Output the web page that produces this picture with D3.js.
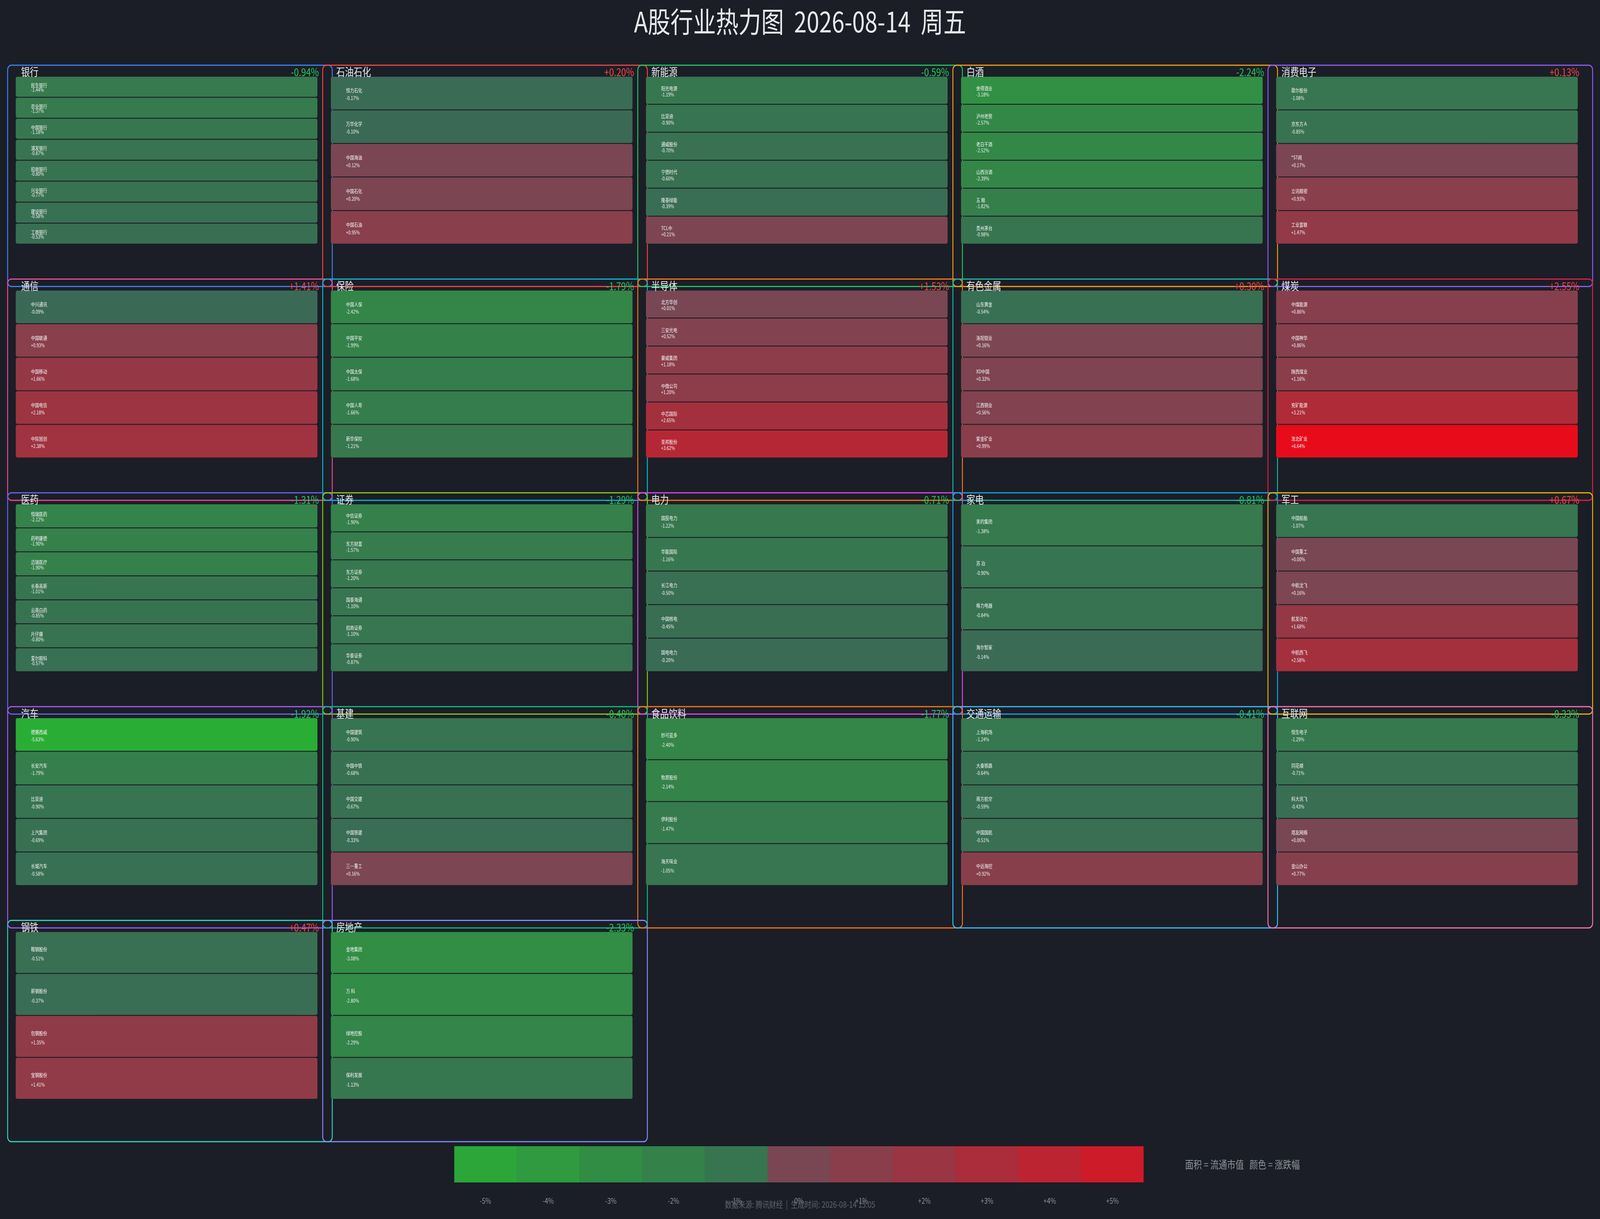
<!DOCTYPE html>
<html><head><meta charset="utf-8">
<script src="https://cdn.jsdelivr.net/npm/d3@7/dist/d3.min.js"></script>
<style>
html,body{margin:0;padding:0;background:#1b1e26;width:100%;height:100%;overflow:hidden;}
svg{display:block;width:100vw;height:100vh;}
text{font-family:"Noto Sans CJK SC","Noto Sans",sans-serif;white-space:pre;}
</style></head><body>
<svg id="chart" viewBox="0 0 5148 3121" preserveAspectRatio="none"></svg>
<script>
// ---------------- DATA ----------------
const sectors = ["银行","石油石化","新能源","白酒","消费电子",
  "通信","保险","半导体","有色金属","煤炭",
  "医药","证券","电力","家电","军工",
  "汽车","基建","食品饮料","交通运输","互联网",
  "钢铁","房地产"];
const sectorChange = [-0.94,0.20,-0.59,-2.24,0.13,
  1.41,-1.79,1.53,0.30,2.55,
  -1.31,-1.29,-0.71,-0.81,0.67,
  -1.92,-0.48,-1.77,-0.41,-0.33,
  0.47,-2.33];
const stockNames = [
  ["民生银行","农业银行","中国银行","浦发银行","招商银行","兴业银行","建设银行","工商银行"],
  ["恒力石化","万华化学","中国海油","中国石化","中国石油"],
  ["阳光电源","比亚迪","通威股份","宁德时代","隆基绿能","TCL中"],
  ["舍得酒业","泸州老窖","老白干酒","山西汾酒","五 粮","贵州茅台"],
  ["歌尔股份","京东方Ａ","*ST闻","立讯精密","工业富联"],
  ["中兴通讯","中国联通","中国移动","中国电信","中际旭创"],
  ["中国人保","中国平安","中国太保","中国人寿","新华保险"],
  ["北方华创","三安光电","豪威集团","中微公司","中芯国际","圣邦股份"],
  ["山东黄金","洛阳钼业","XD中国","江西铜业","紫金矿业"],
  ["中煤能源","中国神华","陕西煤业","兖矿能源","淮北矿业"],
  ["恒瑞医药","药明康德","迈瑞医疗","长春高新","云南白药","片仔癀","爱尔眼科"],
  ["中信证券","东方财富","东方证券","国泰海通","招商证券","华泰证券"],
  ["国投电力","华能国际","长江电力","中国核电","国电电力"],
  ["美的集团","苏 泊","格力电器","海尔智家"],
  ["中国船舶","中国重工","中航沈飞","航发动力","中航西飞"],
  ["德赛西威","长安汽车","比亚迪","上汽集团","长城汽车"],
  ["中国建筑","中国中铁","中国交建","中国铁建","三一重工"],
  ["妙可蓝多","牧原股份","伊利股份","海天味业"],
  ["上海机场","大秦铁路","南方航空","中国国航","中远海控"],
  ["恒生电子","同花顺","科大讯飞","用友网络","金山办公"],
  ["鞍钢股份","新钢股份","包钢股份","宝钢股份"],
  ["金地集团","万 科","绿地控股","保利发展"]
];
const stockChange = [
  [-1.44,-1.37,-1.18,-0.87,-0.80,-0.77,-0.58,-0.53],
  [-0.17,-0.10,0.12,0.20,0.95],
  [-1.19,-0.90,-0.70,-0.60,-0.39,0.21],
  [-3.18,-2.57,-2.52,-2.39,-1.82,-0.98],
  [-1.08,-0.85,0.17,0.93,1.47],
  [-0.09,0.93,1.66,2.18,2.38],
  [-2.42,-1.99,-1.68,-1.66,-1.21],
  [0.01,0.52,1.18,1.20,2.65,3.62],
  [-0.54,0.16,0.33,0.56,0.99],
  [0.86,0.86,1.16,3.21,6.64],
  [-2.12,-1.90,-1.90,-1.01,-0.85,-0.80,-0.57],
  [-1.90,-1.57,-1.20,-1.10,-1.10,-0.87],
  [-1.22,-1.16,-0.50,-0.45,-0.20],
  [-1.38,-0.90,-0.84,-0.14],
  [-1.07,0.00,0.16,1.68,2.58],
  [-5.63,-1.79,-0.90,-0.69,-0.58],
  [-0.90,-0.68,-0.67,-0.33,0.16],
  [-2.40,-2.14,-1.47,-1.05],
  [-1.24,-0.64,-0.59,-0.51,0.92],
  [-1.29,-0.71,-0.43,0.00,0.77],
  [-0.51,-0.37,1.35,1.41],
  [-3.08,-2.80,-2.29,-1.13]
];
const legendTicks = [-5,-4,-3,-2,-1,0,1,2,3,4,5];
const titleText = "A股行业热力图  2026-08-14  周五";
const footerText = "数据来源: 腾讯财经  |  生成时间: 2026-08-14 15:05";
const legendNote = "面积 = 流通市值   颜色 = 涨跌幅";

// ---------------- STYLE ----------------
const boxColors = ["#3b82f6","#ef4444","#22c55e","#f59e0b","#8b5cf6",
  "#ec4899","#06b6d4","#f97316","#14b8a6","#e11d48",
  "#6366f1","#84cc16","#d946ef","#0ea5e9","#eab308",
  "#a855f7","#10b981","#f97316","#38bdf8","#f472b6",
  "#2dd4bf","#818cf8"];
const BG = "#1b1e26";
const W = 5148, H = 3121, NCOLS = 5;
const colPitch = 1013.8, rowPitch = 547.4;
const box0X = 24.5, box0Y = 167, boxW = 1044.5, boxH = 566.5;
const cellOffX = 26, cellOffY = 29.3, cellW = 971, cellH = 427.7;

const svg = d3.select("#chart");
svg.append("rect").attr("width", W).attr("height", H).attr("fill", BG);

const colX = d3.scaleLinear().domain([0, 1]).range([box0X, box0X + colPitch]);
const rowY = d3.scaleLinear().domain([0, 1]).range([box0Y, box0Y + rowPitch]);

const negScale = d3.scaleLinear().domain([-7, 0]).range(["rgb(38,190,45)", "rgb(58,105,86)"]).clamp(true);
const posScale = d3.scaleLinear().domain([0, 7]).range(["rgb(121,71,84)", "rgb(238,9,24)"]).clamp(true);
const color = v => v < 0 ? negScale(v) : posScale(v);
const fmt = v => (v >= 0 ? "+" : "") + v.toFixed(2) + "%";

// title
svg.append("text").attr("x", W / 2).attr("y", 83).attr("text-anchor", "middle")
  .attr("font-size", 73).attr("fill", "#e8e9ec").text(titleText);

const treemap = d3.treemap().tile(d3.treemapSlice).size([cellW, cellH]).paddingInner(2).round(false);

const panels = svg.append("g");
sectors.forEach((name, i) => {
  const c = i % NCOLS, r = Math.floor(i / NCOLS);
  const bx = colX(c), by = rowY(r);
  const g = panels.append("g");
  const root = d3.hierarchy({ children: stockNames[i].map((n, j) => ({ name: n, chg: stockChange[i][j] })) })
    .sum(d => d.children ? 0 : 1);
  treemap(root);
  const cg = g.append("g").attr("transform", `translate(${bx + cellOffX},${by + cellOffY})`);
  const leaf = cg.selectAll("g").data(root.leaves()).join("g")
    .attr("transform", d => `translate(${d.x0},${d.y0})`);
  leaf.append("rect")
    .attr("width", d => d.x1 - d.x0).attr("height", d => d.y1 - d.y0)
    .attr("rx", 5).attr("fill", d => color(d.data.chg))
    .attr("stroke", "rgba(0,0,0,0.18)").attr("stroke-width", 1);
  leaf.append("text").attr("x", 49).attr("y", d => (d.y1 - d.y0) * 0.405)
    .attr("dominant-baseline", "central").attr("font-size", 13).attr("fill", "#f2f2f2")
    .text(d => d.data.name);
  leaf.append("text").attr("x", 49).attr("y", d => (d.y1 - d.y0) * 0.64)
    .attr("dominant-baseline", "central").attr("font-size", 13).attr("fill", "#ececec")
    .text(d => fmt(d.data.chg));
  // box
  g.append("rect").attr("x", bx).attr("y", by).attr("width", boxW).attr("height", boxH)
    .attr("rx", 12).attr("fill", "none").attr("stroke", boxColors[i]).attr("stroke-width", 3);
  // header
  g.append("text").attr("x", bx + 43.5).attr("y", by + 28.5).attr("font-size", 28)
    .attr("fill", "#e5e7eb").text(name);
  g.append("text").attr("x", bx + 1001.5).attr("y", by + 28.5).attr("font-size", 28)
    .attr("text-anchor", "end").attr("fill", sectorChange[i] < 0 ? "#22c55e" : "#ef4444")
    .text(fmt(sectorChange[i]));
});

// legend
const band = d3.scaleBand().domain(legendTicks).range([1461, 3680]).padding(0);
const lg = svg.append("g");
lg.selectAll("rect.sw").data(legendTicks).join("rect").attr("class", "sw")
  .attr("x", d => band(d)).attr("y", 2934).attr("width", band.bandwidth() + 0.5).attr("height", 94)
  .attr("fill", d => color(d));
lg.append("rect").attr("x", 1461).attr("y", 2934).attr("width", 3680 - 1461).attr("height", 94)
  .attr("rx", 3).attr("fill", "none").attr("stroke", "rgba(0,0,0,0.35)").attr("stroke-width", 2);
lg.selectAll("text.tk").data(legendTicks).join("text").attr("class", "tk")
  .attr("x", d => band(d) + band.bandwidth() / 2).attr("y", 3073)
  .attr("text-anchor", "middle").attr("dominant-baseline", "central")
  .attr("font-size", 20).attr("fill", "#8a8f99")
  .text(d => (d > 0 ? "+" : "") + d + "%");
svg.append("text").attr("x", 3813).attr("y", 2980).attr("dominant-baseline", "central")
  .attr("font-size", 27).attr("fill", "#8b9099").text(legendNote);
svg.append("text").attr("x", W / 2).attr("y", 3083).attr("text-anchor", "middle")
  .attr("dominant-baseline", "central").attr("font-size", 22).attr("fill", "#5d626c").text(footerText);
</script>
</body></html>
